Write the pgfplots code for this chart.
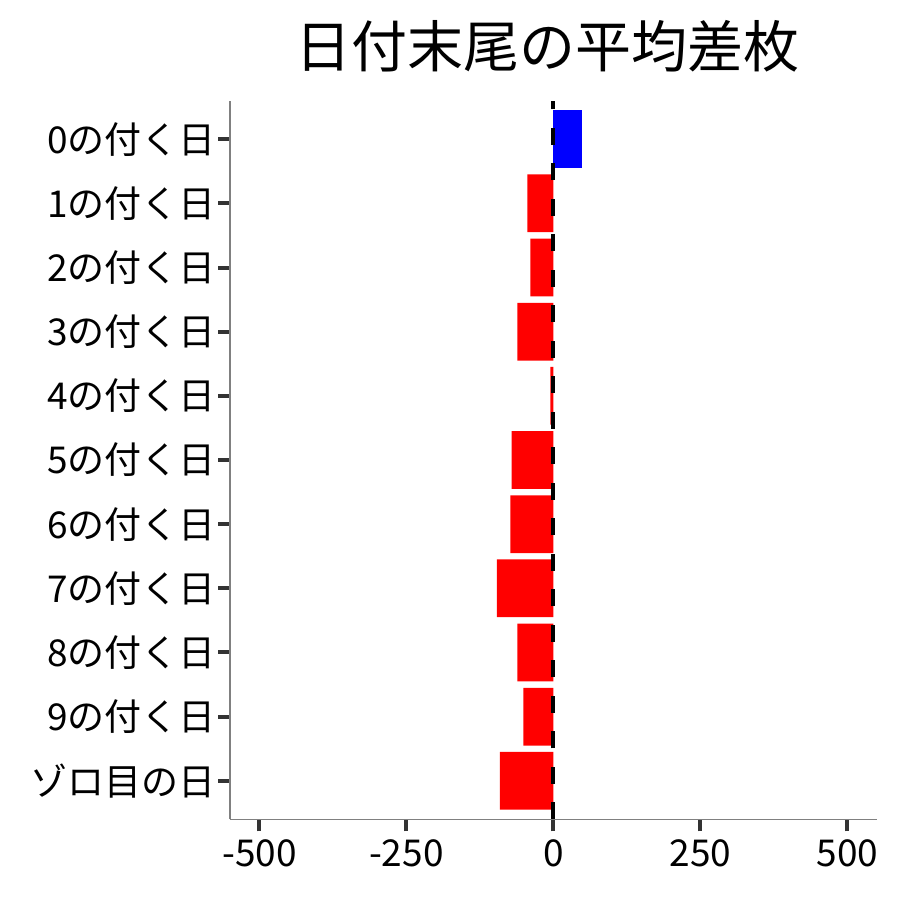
\documentclass[border=0pt]{standalone}
\usepackage{fontspec}
\setmainfont{Noto Sans CJK JP}
\usepackage{pgfplots}
\pgfplotsset{compat=1.18}
\begin{document}
\begin{tikzpicture}[x=1pt,y=1pt]
\path[use as bounding box] (0,0) rectangle (450,450);
\begin{axis}[
 at={(115pt,40.35pt)}, anchor=south west,
 scale only axis, width=323.35pt, height=359.3pt,
 xmin=-550, xmax=550, ymin=0.4, ymax=11.6,
 axis lines=left, axis line style={-, draw=gray, line width=0.65pt},
 xtick={-500,-250,0,250,500}, xticklabels={-500,-250,0,250,500},
 ytick={1,2,3,4,5,6,7,8,9,10,11},
 yticklabels={ゾロ目の日,9の付く日,8の付く日,7の付く日,6の付く日,5の付く日,4の付く日,3の付く日,2の付く日,1の付く日,0の付く日},
 tick align=outside, major tick length=6pt,
 tick style={line width=2pt, draw=black!80},
 ticklabel style={font=\fontsize{18.5}{20}\selectfont},
 yticklabel style={xshift=2.5pt},
 xticklabel style={yshift=-0.5pt},
 clip=false,
]
\addplot[xbar, bar width=0.9, bar shift=0pt, draw=none, fill={rgb,255:red,0;green,0;blue,255}] coordinates {(49,11)};
\addplot[xbar, bar width=0.9, bar shift=0pt, draw=none, fill={rgb,255:red,255;green,0;blue,0}] coordinates {
(-44,10) (-39,9) (-61,8) (-5,7) (-71,6) (-73,5) (-96,4) (-61,3) (-51,2) (-91,1)};
\addplot[sharp plot, no marks, black, line width=2.1pt, dash pattern=on 8.4pt off 9.35pt] coordinates {(0,0.4) (0,11.6)};
\end{axis}
\node[font=\fontsize{28}{30}\selectfont] at (273.8,427) {日付末尾の平均差枚};
\end{tikzpicture}
\end{document}
